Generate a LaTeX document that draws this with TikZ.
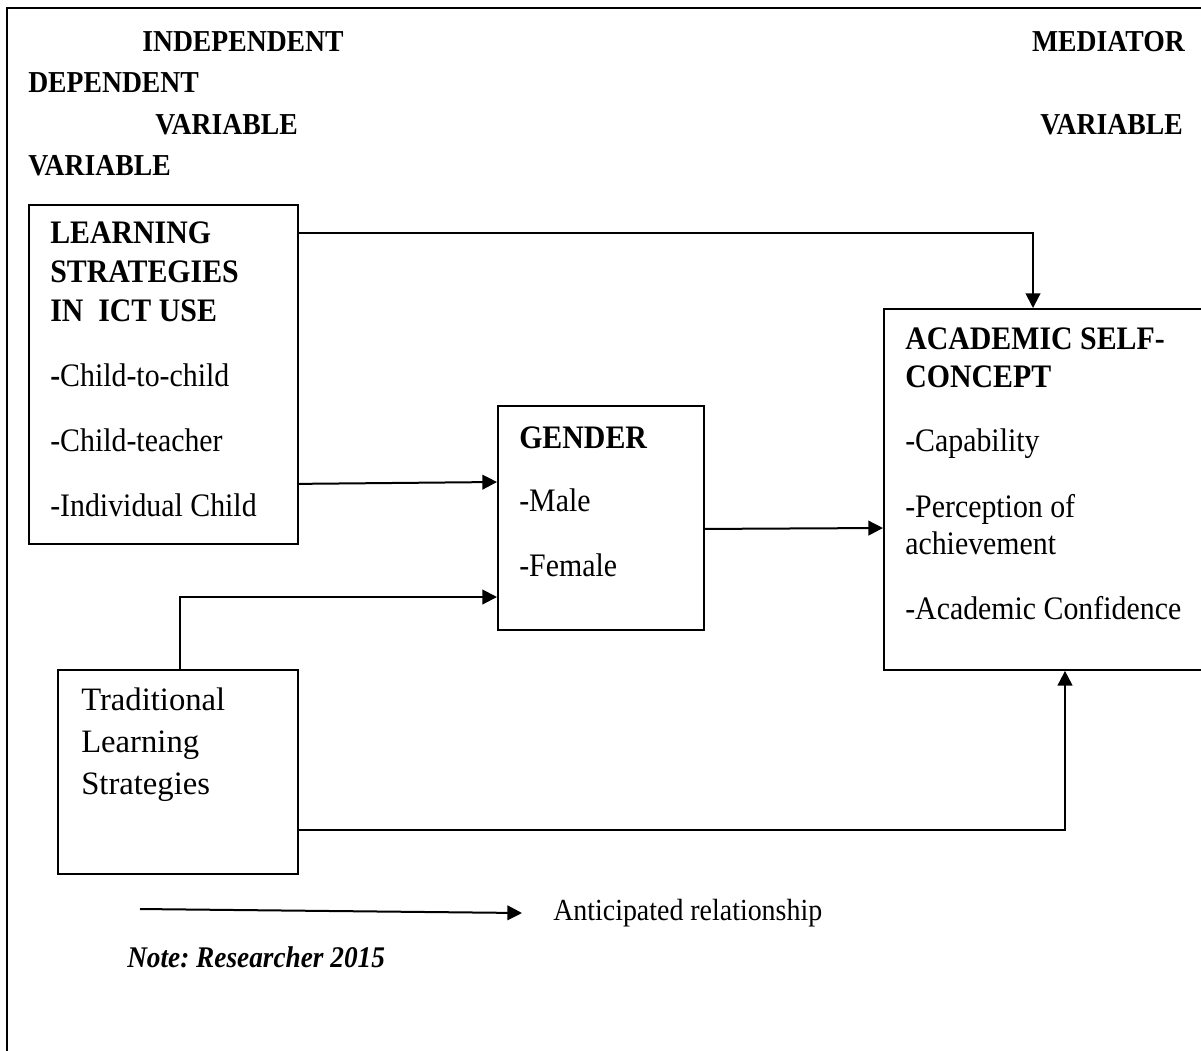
\documentclass[tikz,border=0pt]{standalone}
\usepackage{fontspec}
\setmainfont{Liberation Serif}[FakeStretch=0.91]
\newfontfamily\tradfont{Liberation Serif}
\usetikzlibrary{positioning, arrows.meta, calc}
\tikzstyle{varbox} = [rectangle, draw=black, line width=1.4pt, inner sep=0pt, anchor=north west]
\tikzstyle{boxtext} = [anchor=north west, inner sep=0pt, align=left, font=\fontsize{24.6}{29.25}\selectfont]
\tikzstyle{heading} = [inner sep=0pt, font=\fontsize{22.8}{29}\selectfont\bfseries]
\tikzstyle{arrow} = [line width=1.5pt, -{Triangle[length=11pt, width=11pt]}]

\begin{document}
\begin{tikzpicture}[x=0.75pt, y=-0.75pt]
\useasboundingbox (0,0) rectangle (1201,1050);
% outer frame, cut at right and bottom
\draw[line width=1.4pt] (1215,8) -- (7,8) -- (7,1065);

% column headings
\node (indep) [heading, anchor=west] at (142,42) {INDEPENDENT};
\node (med) [heading, anchor=east] at (1185,42) {MEDIATOR};
\node (dep) [heading, anchor=west] at (28,83) {DEPENDENT};
\node (indepvar) [heading, anchor=west] at (155,125) {VARIABLE};
\node (medvar) [heading, anchor=east] at (1183,125) {VARIABLE};
\node (depvar) [heading, anchor=west] at (28,166) {VARIABLE};

% boxes
\node (ls) [varbox, minimum width=201.75pt, minimum height=254.25pt] at (28,204) {};
\node (gender) [varbox, minimum width=154.5pt, minimum height=168pt] at (497,405) {};
\node (asc) [varbox, minimum width=250pt, minimum height=270.75pt] at (883,308) {};
\node (trad) [varbox, minimum width=180pt, minimum height=153pt] at (57,669) {};

% box contents
\node (lstext) [boxtext] at (50,222) {\textbf{LEARNING}\\\textbf{STRATEGIES}\\\textbf{IN\ \ ICT USE}\\[19.5pt]
  \textbf{-}Child-to-child\\[19.5pt]-Child-teacher\\[19.5pt]-Individual Child};
\node (gendertext) [boxtext] at (519,427) {\textbf{GENDER}\\[18pt]-Male\\[19.5pt]-Female};
\node (asctext) [boxtext, font=\fontsize{24.6}{28}\selectfont] at (905,328) {\textbf{ACADEMIC SELF-}\\\textbf{CONCEPT}\\[20.5pt]-Capability\\[21pt]
  -Perception of\\achievement\\[21pt]-Academic Confidence};
\node (tradtext) [boxtext, font=\tradfont\fontsize{24.5}{31.5}\selectfont] at (81,688) {Traditional\\Learning\\Strategies};

% relationships
\draw [arrow] ([shift={(0,29)}]ls.north east) -| ([shift={(150,0)}]asc.north west);
\draw [arrow] ([shift={(0,-61)}]ls.south east) -- ([shift={(0,77)}]gender.north west);
\draw [arrow] ([shift={(0,11)}]gender.east) -- ([shift={(0,220)}]asc.north west);
\draw [arrow] ([shift={(123,0)}]trad.north west) |- ([shift={(0,192)}]gender.north west);
\draw [arrow] ([shift={(0,-45)}]trad.south east) -| ([shift={(182,0)}]asc.south west);

% legend
\coordinate (legstart) at (140,909);
\node (legend) [anchor=west, inner sep=0pt, font=\fontsize{23}{28}\selectfont] at (553,913) {Anticipated relationship};
\draw [arrow] (legstart) -- ([shift={(-31,0)}]legend.west);
\node (note) [anchor=west, inner sep=0pt, font=\fontsize{22.5}{28}\selectfont\bfseries\itshape] at (127,957) {Note:\ Researcher 2015};
\end{tikzpicture}
\end{document}
